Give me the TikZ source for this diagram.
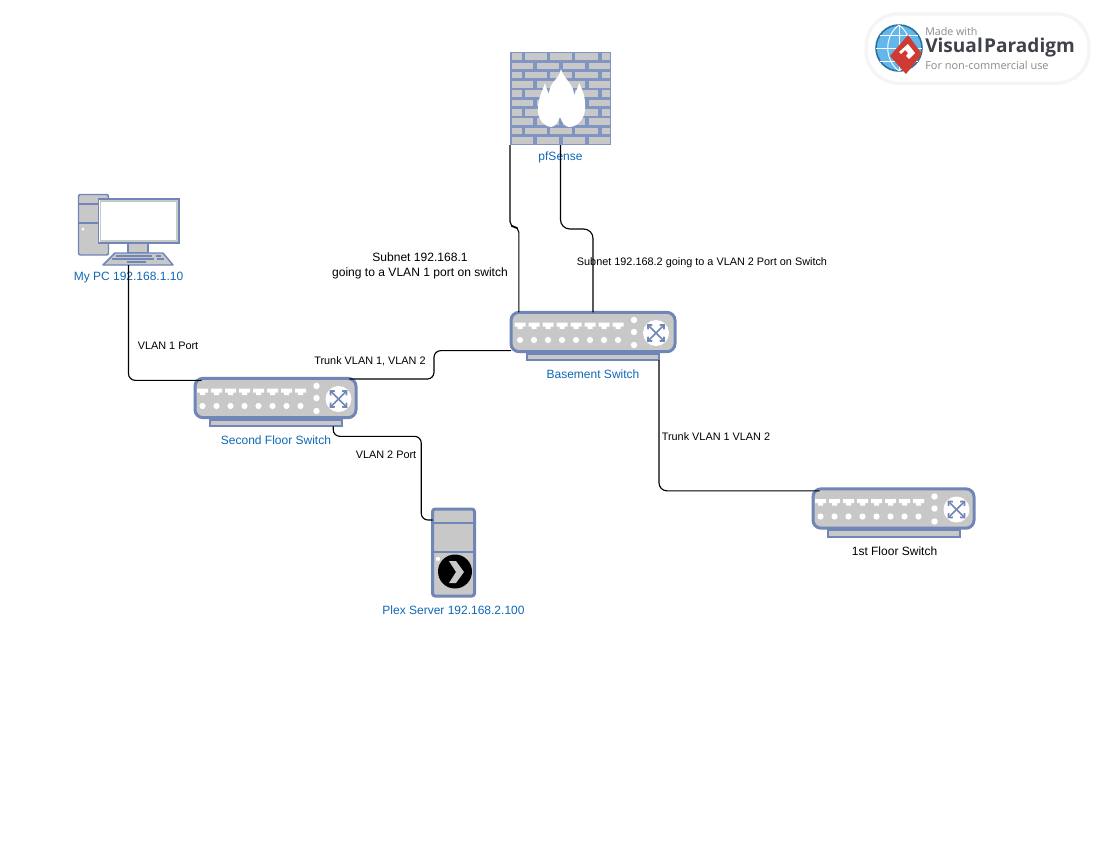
\documentclass[tikz,border=0pt]{standalone}
\usepackage{xcolor}
\usepackage{fontspec}
\setmainfont{Liberation Sans}
\newfontfamily\logofont{Open Sans}
\usetikzlibrary{positioning, arrows.meta}
\definecolor{iconblue}{HTML}{6F86B7}
\definecolor{wallblue}{HTML}{8095C2}
\definecolor{icongray}{HTML}{C8C8C8}
\definecolor{labelblue}{HTML}{0F67B5}
\definecolor{logogray}{HTML}{8A8A8A}
\definecolor{logodark}{HTML}{3F4349}
\definecolor{logored}{HTML}{CF3A32}
\definecolor{logosky}{HTML}{62B8EA}
\definecolor{logorim}{HTML}{2F6F9E}
\tikzset{
  link/.style={draw=black, line width=0.85pt, rounded corners=4pt},
  devlabel/.style={text=labelblue, font=\fontsize{9}{11}\selectfont, inner sep=0pt},
  linklabel/.style={text=black, font=\fontsize{8.15}{10}\selectfont, inner sep=0pt, align=center},
  iconbox/.style={draw=none, inner sep=0pt, outer sep=0pt},
  switchbody/.style={draw=iconblue, fill=icongray, line width=2.25pt, rounded corners=6pt,
        minimum width=120.75pt, minimum height=29.5pt, inner sep=0pt, outer sep=0pt},
  switchbase/.style={draw=iconblue, fill=icongray, line width=1.5pt,
        minimum width=99pt, minimum height=5pt, inner sep=0pt, outer sep=0pt},
  switchicon/.pic={
    \node[switchbase] (-base) at (0,25) {};
    \node[switchbody] (-body) at (0,0) {};
    \foreach \i in {0,...,7}{
      \fill[white] ({-73+14*\i-5.5},-9.5) -- ++(11,0) -- ++(0,4) -- ++(-3,0) -- ++(0,2.5) -- ++(-5,0)
        -- ++(0,-2.5) -- ++(-3,0) -- cycle;
      \fill[white] ({-73+14*\i},8) circle[radius=3.1];
    }
    \foreach \d in {-12,0,13}
      \fill[white] (41,\d) circle[radius=3.2];
    \fill[white] (63,1) circle[radius=13];
    \draw[iconblue, line width=1.3pt, {Straight Barb[length=2.5pt,width=4.5pt]}-{Straight Barb[length=2.5pt,width=4.5pt]}]
      (54,-8) -- (72,10);
    \draw[iconblue, line width=1.3pt, {Straight Barb[length=2.5pt,width=4.5pt]}-{Straight Barb[length=2.5pt,width=4.5pt]}]
      (54,10) -- (72,-8);
  }
}
\begin{document}
\begin{tikzpicture}[x=0.75pt, y=-0.75pt]
  \useasboundingbox (0,0) rectangle (1100,850);

  % firewall
  \node[iconbox, fill=wallblue, minimum width=75.75pt, minimum height=69.75pt] (pfsense) at (560.5,98.5) {};
  \foreach \r in {0,2,4,6,8}
    \foreach \a/\b in {511.5/521.5, 524.5/546.5, 549.5/571.5, 574.5/597.5, 601.5/609.5}
      \fill[icongray] (\a,{53.2+\r*9.3}) rectangle (\b,{59.8+\r*9.3});
  \foreach \r in {1,3,5,7,9}
    \foreach \a/\b in {511.5/532.5, 536.5/558.5, 562.5/584.5, 588.5/609.5}
      \fill[icongray] (\a,{53.2+\r*9.3}) rectangle (\b,{59.8+\r*9.3});
  \fill[white] (561,69) .. controls (563,78) and (574,84) .. (574,95)
    .. controls (576,91) and (578,88) .. (579,83)
    .. controls (584,92) and (586,102) .. (585,110)
    .. controls (584,120) and (577,127) .. (569,127)
    .. controls (565,127) and (562,122) .. (560,117)
    .. controls (558,122) and (555,127) .. (551,127)
    .. controls (543,126) and (537,118) .. (538,108)
    .. controls (538,98) and (543,90) .. (545,83)
    .. controls (546,87) and (547,90) .. (549,94)
    .. controls (549,82) and (559,80) .. (561,69) -- cycle;
  \node[devlabel] (pfsense-label) at (560.5,157) {pfSense};

  % my pc
  \node[iconbox, minimum width=75.75pt, minimum height=53.25pt] (pc) at (128.5,229.5) {};
  \draw[iconblue, fill=icongray, line width=1.1pt, rounded corners=1.5pt] (78.5,194.5) rectangle (108.5,255);
  \draw[iconblue, line width=1.1pt] (78.5,204) -- (108.5,204) (78.5,223) -- (108.5,223);
  \fill[white] (83,229) circle[radius=1.5];
  \draw[iconblue, fill=icongray, line width=1.1pt] (128,243) rectangle (148,253);
  \draw[iconblue, fill=white, line width=1.1pt] (98.5,199) rectangle (179,243);
  \draw[icongray, line width=1.1pt] (100.5,201) rectangle (177,241);
  \draw[iconblue, fill=icongray, line width=1.1pt, line join=round] (115,253) -- (163,253) -- (173,265) -- (103,265) -- cycle;
  \draw[iconblue, line width=1.1pt] (116,256) -- (152,256) (156,256) -- (161,256)
    (112,259) -- (154,259) (157,259) -- (164,259) (127,262) -- (146,262);
  \node[devlabel] (pc-label) at (128.5,278) {My PC 192.168.1.10};

  % plex server
  \node[draw=iconblue, fill=icongray, line width=2.25pt, rounded corners=2pt, inner sep=0pt, outer sep=0pt,
        minimum width=31.5pt, minimum height=65.25pt] (plex) at (453.5,552.5) {};
  \draw[iconblue, line width=1.5pt] (plex.west |- 0,523) -- (plex.east |- 0,523);
  \draw[iconblue, line width=1.5pt] (plex.west |- 0,552) -- (plex.east |- 0,552);
  \fill[white] (438,559) circle[radius=2.2];
  \fill[black] (455,571.5) circle[radius=17];
  \fill[icongray] (449,561) -- (456,561) -- (464,572) -- (456,583) -- (449,583) -- (456,572) -- cycle;
  \node[devlabel] (plex-label) at (453.5,610) {Plex Server 192.168.2.100};

  % switches
  \pic[switchbody/.append style={minimum width=123pt}] (basement) at (593,332) {switchicon};
  \pic (second) at (275.5,398) {switchicon};
  \pic (first) at (893.5,508.5) {switchicon};
  \node[devlabel] (basement-label) at (593,374) {Basement Switch};
  \node[devlabel] (second-label) at (276,440) {Second Floor Switch};
  \node[devlabel, text=black] (first-label) at (894.5,551) {1st Floor Switch};

  % connections
  \draw[link] (pfsense.south west) -- ++(0,82) -| ([xshift=5.9pt]basement-body.north west);
  \draw[link, rounded corners=7pt] (pfsense.south) -- ++(0,84) -| (basement-body.north);
  \draw[link, rounded corners=5pt] ([yshift=0.75pt]basement-body.south west) -- ++(-77,0) |- ([xshift=-5pt,yshift=-0.5pt]second-body.north east);
  \draw[link, rounded corners=5pt] (pc.south) |- ([xshift=5pt,yshift=-1.5pt]second-body.north west);
  \draw[link, rounded corners=5pt] ([xshift=-6.2pt]second-base.south east) -- ++(0,10) -- ++(88,0) |- ([yshift=24.4pt]plex.west);
  \draw[link, rounded corners=6pt] (basement-base.south east) |- ([xshift=5pt,yshift=-1.5pt]first-body.north west);

  % connection labels
  \node[linklabel, font=\fontsize{9.05}{11.5}\selectfont] (subnet-one) at (420,266) {Subnet 192.168.1\\going to a VLAN 1 port on switch};
  \node[linklabel] (subnet-two) at (702,263) {Subnet 192.168.2 going to a VLAN 2 Port on Switch};
  \node[linklabel] (vlan-one) at (168,346) {VLAN 1 Port};
  \node[linklabel] (trunk-second) at (370,361) {Trunk VLAN 1, VLAN 2};
  \node[linklabel] (vlan-two) at (386,455) {VLAN 2 Port};
  \node[linklabel] (trunk-first) at (716,437) {Trunk VLAN 1 VLAN 2};

  % logo
  \node[draw=black!4, fill=white, line width=2.5pt, rounded corners=24pt, inner sep=0pt,
        minimum width=167pt, minimum height=52pt] (logo) at (977.5,48.5) {};
  \draw[logorim, fill=logosky, line width=1.2pt] (899,48) circle[radius=23];
  \draw[white, line width=0.7pt] (899,25) -- (899,71) (876,48) -- (922,48)
    (880,35) -- (918,35) (880,61) -- (918,61);
  \draw[white, line width=0.7pt] (899,25) .. controls (884,36) and (884,60) .. (899,71);
  \draw[white, line width=0.7pt] (899,25) .. controls (914,36) and (914,60) .. (899,71);
  \fill[logored] (908,35) -- (922,54) -- (906,74) -- (890,56) -- cycle;
  \fill[white] (908,44) -- (915,53) -- (909,59) -- (906,56) -- (908,53) -- (905,50) -- (901,54) -- (899,52) -- cycle;
  \node[anchor=west, inner sep=0pt, text=logogray, font=\logofont\fontsize{8}{10}\selectfont] (logo-made) at (925,31) {Made with};
  \node[anchor=west, inner sep=0pt, text=logodark, font=\logofont\bfseries\fontsize{14.3}{16}\selectfont] (logo-name) at (925,48) {Visual\kern1pt Paradigm};
  \node[anchor=west, inner sep=0pt, text=logogray, font=\logofont\fontsize{8.2}{10}\selectfont] (logo-use) at (925,65) {For non-commercial use};
\end{tikzpicture}
\end{document}
